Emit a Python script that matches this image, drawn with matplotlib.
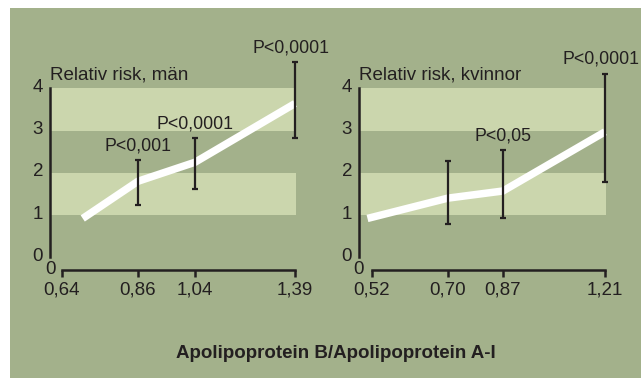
import numpy as np
import matplotlib
matplotlib.use("Agg")
import matplotlib.pyplot as plt
import matplotlib.transforms as mtransforms
from matplotlib.patches import Rectangle

# Relative risk by quartile of the apoB/apoA-I ratio, men and women
men_ticks = [0.64, 0.86, 1.04, 1.39]
men_line_x = [0.70, 0.86, 1.04, 1.39]
men_line_y = [0.92, 1.80, 2.25, 3.64]
men_ci_x = [0.86, 1.04, 1.39]
men_ci_lo = [1.25, 1.61, 2.83]
men_ci_hi = [2.30, 2.83, 4.62]
men_p = ["P<0,001", "P<0,0001", "P<0,0001"]

women_ticks = [0.52, 0.70, 0.87, 1.21]
women_line_x = [0.51, 0.70, 0.87, 1.21]
women_line_y = [0.92, 1.40, 1.57, 2.97]
women_ci_x = [0.70, 0.87, 1.21]
women_ci_lo = [0.79, 0.94, 1.79]
women_ci_hi = [2.28, 2.54, 4.35]
women_p = ["", "P<0,05", "P<0,0001"]

y_ticks = [0, 1, 2, 3, 4]
titles = ["Relativ risk, män", "Relativ risk, kvinnor"]
xlabel = "Apolipoprotein B/Apolipoprotein A-I"

# the original spaces the quartile ticks unevenly; pixel spacing of those ticks
men_tick_px = [62, 138, 195, 295]
women_tick_px = [371.7, 447.7, 503, 605]

BG = "#a3b18b"
BAND = "#cbd6ad"
INK = "#231f20"

plt.rcParams["font.family"] = ["Liberation Sans", "DejaVu Sans"]
FS = 13.5
FS_P = 12.8


def piecewise(vals, px):
    vals = np.asarray(vals, float)
    px = np.asarray(px, float)

    def conv(x, a, b):
        x = np.asarray(x, float)
        y = np.interp(x, a, b)
        lo = b[0] + (x - a[0]) * (b[1] - b[0]) / (a[1] - a[0])
        hi = b[-1] + (x - a[-1]) * (b[-1] - b[-2]) / (a[-1] - a[-2])
        return np.where(x < a[0], lo, np.where(x > a[-1], hi, y))

    return (lambda x: conv(x, vals, px)), (lambda y: conv(y, px, vals))


fig = plt.figure(figsize=(6.41, 3.78), dpi=100, facecolor="white")
W, H = 641, 378
fig.patches.append(Rectangle((10 / W, 0), 1, (H - 8) / H, transform=fig.transFigure,
                             facecolor=BG, edgecolor="none", zorder=-10))

panels = [
    (50, 296, men_ticks, men_tick_px, men_line_x, men_line_y,
     men_ci_x, men_ci_lo, men_ci_hi, men_p, titles[0]),
    (359, 606, women_ticks, women_tick_px, women_line_x, women_line_y,
     women_ci_x, women_ci_lo, women_ci_hi, women_p, titles[1]),
]

y_top_px, y_bot_px = 88.3, 270
for (x0, x1, ticks, tpx, lx, ly, cx, clo, chi, plabels, title) in panels:
    ax = fig.add_axes([x0 / W, (H - y_bot_px) / H, (x1 - x0) / W, (y_bot_px - y_top_px) / H])
    ax.patch.set_visible(False)
    fwd, inv = piecewise(ticks, tpx)
    ax.set_xscale("function", functions=(fwd, inv))
    ax.set_xlim(float(inv(x0)), float(inv(x1)))
    ax.set_ylim(-0.30, 4)

    ax.axhspan(1, 2, color=BAND, lw=0, zorder=0)
    ax.axhspan(3, 4, color=BAND, lw=0, zorder=0)

    ax.plot(lx, ly, color="white", lw=5.4, solid_capstyle="butt",
            solid_joinstyle="miter", zorder=2, clip_on=False)

    mid = [(a + b) / 2 for a, b in zip(clo, chi)]
    err = [(b - a) / 2 for a, b in zip(clo, chi)]
    ax.errorbar(cx, mid, yerr=err, fmt="none", ecolor=INK, elinewidth=1.6,
                capsize=2.2, capthick=1.6, zorder=3, clip_on=False)
    for i, (x, top, lab) in enumerate(zip(cx, chi, plabels)):
        if lab:
            dx = -3 if i == len(cx) - 1 else 0
            ax.annotate(lab, (x, top), xytext=(dx, 4), textcoords="offset points",
                        ha="center", va="bottom", fontsize=FS_P, color=INK,
                        annotation_clip=False)

    ax.annotate(title, (0, 4), xycoords=("axes fraction", "data"), xytext=(0, 6),
                textcoords="offset points", ha="left", va="baseline",
                fontsize=FS, color=INK)
    ax.annotate("0", (0, 0), xycoords="axes fraction", ha="center", va="center",
                fontsize=FS, color=INK)

    for s in ["top", "right"]:
        ax.spines[s].set_visible(False)
    ax.spines["left"].set_bounds(0, 4)
    ax.spines["bottom"].set_bounds(ticks[0], ticks[-1])
    for s in ["left", "bottom"]:
        ax.spines[s].set_linewidth(1.8)
        ax.spines[s].set_color(INK)

    ax.set_yticks(y_ticks)
    ax.set_yticklabels([str(v) for v in y_ticks])
    ax.tick_params(axis="y", length=0, pad=5, labelsize=FS, labelcolor=INK)
    up = mtransforms.ScaledTranslation(0, 3 / 100, fig.dpi_scale_trans)
    for lab in ax.get_yticklabels():
        lab.set_transform(lab.get_transform() + up)

    ax.set_xticks(ticks)
    ax.set_xticklabels([("%.2f" % t).replace(".", ",") for t in ticks])
    ax.xaxis.set_minor_locator(plt.NullLocator())
    ax.tick_params(axis="x", direction="out", length=5, width=1.8, color=INK,
                   pad=3, labelsize=FS, labelcolor=INK)

fig.text(336 / W, 1 - 354 / H, xlabel, ha="center", va="center",
         fontsize=FS, fontweight="bold", color=INK)

fig.savefig("out.png", dpi=100, facecolor=fig.get_facecolor())
